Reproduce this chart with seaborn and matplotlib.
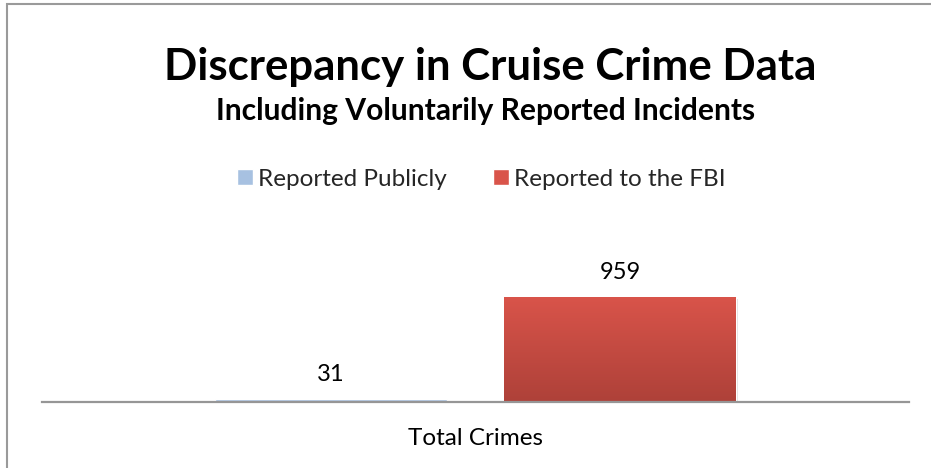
import numpy as np
import pandas as pd
import matplotlib
matplotlib.use("Agg")
import matplotlib.pyplot as plt
import matplotlib.patheffects as pe
import seaborn as sns
from matplotlib.colors import LinearSegmentedColormap
from matplotlib.patches import Rectangle

# ---- data -------------------------------------------------------------
categories = ["Total Crimes"]
series = ["Reported Publicly", "Reported to the FBI"]
values = [31, 959]

title = "Discrepancy in Cruise Crime Data"
subtitle = "Including Voluntarily Reported Incidents"

df = pd.DataFrame({
    "category": categories * len(series),
    "series": series,
    "count": values,
})

# ---- style ------------------------------------------------------------
sns.set_theme(style="white")
plt.rcParams["font.family"] = ["Lato", "DejaVu Sans"]

W, H = 931, 468
fig = plt.figure(figsize=(W / 100, H / 100), dpi=100)
fig.patch.set_facecolor("white")

ax = fig.add_axes([42 / W, (H - 402) / H, 867 / W, 131.4 / H])

blue = "#A7C1E1"
red_top = "#D9544A"
red_bottom = "#AE4139"

sns.barplot(
    data=df, x="category", y="count", hue="series",
    palette=[blue, red_top], width=0.667, gap=0.2,
    saturation=1, ax=ax, legend=True,
)

ax.set_ylim(0, 1200)
ax.set_xlim(-0.5, 0.5)
ax.set_xlabel("")
ax.set_ylabel("")
ax.set_yticks([])
for side in ("left", "right", "top"):
    ax.spines[side].set_visible(False)
ax.spines["bottom"].set_color("#969696")
ax.spines["bottom"].set_linewidth(1.6)
ax.spines["bottom"].set_zorder(5)
ax.tick_params(axis="x", length=0, pad=19, labelsize=17.5, labelcolor="#000000")
ax.set_facecolor("none")

# soft drop shadow under the bars
for container in ax.containers:
    for bar in container:
        bar.set_path_effects([
            pe.SimplePatchShadow(offset=(1.5, -1.5), shadow_rgbFace="#808080", alpha=0.25),
            pe.Normal(),
        ])

# vertical gradient on the FBI bar
red_bar = ax.containers[1][0]
bx, bw, bh = red_bar.get_x(), red_bar.get_width(), red_bar.get_height()
grad_cmap = LinearSegmentedColormap.from_list("redgrad", [red_bottom, red_top])
grad = np.linspace(0, 1, 256).reshape(-1, 1)
im = ax.imshow(grad, cmap=grad_cmap, extent=[bx, bx + bw, 0, bh],
               origin="lower", aspect="auto", zorder=red_bar.get_zorder() + 0.1)
im.set_clip_path(red_bar)
ax.set_xlim(-0.5, 0.5)
ax.set_ylim(0, 1200)

# value labels
for container in ax.containers:
    ax.bar_label(container, padding=10, fontsize=17, color="#000000")

# legend across the top
handles, labels = ax.get_legend_handles_labels()
ax.get_legend().remove()
fig.legend(handles, labels, loc="center", bbox_to_anchor=(481 / W, 1 - 179 / H),
           ncol=2, frameon=False, fontsize=17.5, handlelength=0.66,
           handleheight=0.66, handletextpad=0.2, columnspacing=1.9,
           borderaxespad=0, borderpad=0)

# titles
fig.text(490 / W, 1 - 80 / H, title, ha="center", va="baseline",
         fontsize=31.5, fontweight="bold", color="#000000")
fig.text(486 / W, 1 - 120 / H, subtitle, ha="center", va="baseline",
         fontsize=21.6, fontweight="bold", color="#000000")

# chart frame
fig.patches.append(Rectangle((6.5 / W, -0.05), 2.0, 1.05 - 4.5 / H,
                             transform=fig.transFigure, fill=False,
                             edgecolor="#9a9a9a", linewidth=1.5))

fig.savefig("out.png", dpi=100)
